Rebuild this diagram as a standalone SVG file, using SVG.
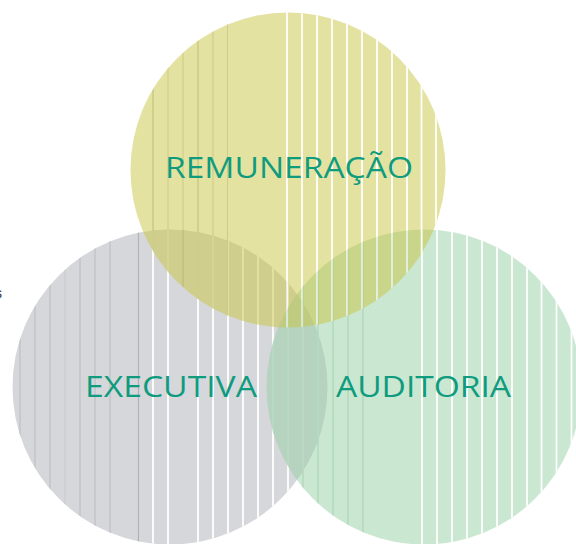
<svg xmlns="http://www.w3.org/2000/svg" width="576" height="544" viewBox="0 0 576 544">
<style>
.lbl{font-family:"Open Sans","Noto Sans","Liberation Sans",sans-serif;font-size:28.5px;font-weight:500;fill:#0e9b7e;text-anchor:middle}
.w{stroke:#ffffff;stroke-width:1.8}
.gd{stroke:#bdbec2;stroke-width:1.1}
.yd{stroke:#9d9d1c;stroke-width:1.1}
.gr{stroke:#5aa86c;stroke-width:1.1}
</style>
<defs>
<clipPath id="cg"><circle cx="170" cy="387" r="157.5"/></clipPath>
<clipPath id="cy"><circle cx="288" cy="170" r="157.5"/></clipPath>
<clipPath id="cn"><circle cx="424" cy="387" r="157.5"/></clipPath>
</defs>
<rect width="576" height="544" fill="#ffffff"/>
<text x="-5" y="298" font-family="Liberation Sans,sans-serif" font-size="14" fill="#333333">s</text>
<g id="executiva-circle">
<circle cx="170" cy="387" r="157.5" fill="#d6d7da"/>
<g clip-path="url(#cg)">
<path class="gd" d="M20 220V560M35 220V560M50 220V560M80 220V560M95 220V560M110 220V560"/>
<path d="M65 220V560" stroke="#c9cacd" stroke-width="1.1"/>
<path d="M138.5 220V560" stroke="#b0b2b5" stroke-width="1.2"/>
<path class="w" d="M153 220V560M168 220V560M198 220V560M213 220V560M228 220V560M243 220V560M258 220V560M273 220V560M288 220V560M303 220V560M318 220V560"/>
</g>
</g>
<g id="auditoria-circle" opacity="0.5">
<circle cx="424" cy="387" r="157.5" fill="#95d1a5"/>
<g clip-path="url(#cn)">
<path class="gr" d="M273 220V560M288 220V560M303 220V560M318 220V560M333 220V560M348 220V560M363 220V560"/>
<path class="w" d="M422 220V560M437 220V560M452 220V560M467 220V560M482 220V560M497 220V560M512 220V560M527 220V560M541.5 220V560M556.5 220V560M571.5 220V560"/>
</g>
</g>
<g id="remuneracao-circle" opacity="0.5">
<circle cx="288" cy="170" r="157.5" fill="#c9c743"/>
<g clip-path="url(#cy)">
<path class="yd" d="M168 0V340M183 0V340M213 0V340M227.5 0V340"/>
<path d="M153 0V340M198 0V340" stroke="#8a8a05" stroke-width="1.2"/>
<path class="w" d="M287 0V340M302 0V340M317 0V340M332 0V340M347 0V340M362 0V340M377 0V340M392 0V340M407 0V340M421.5 0V340M436 0V340"/>
</g>
</g>
<g id="labels">
<text class="lbl" x="289" y="178" textLength="248" lengthAdjust="spacingAndGlyphs">REMUNERAÇÃO</text>
<text class="lbl" x="171" y="397" textLength="172" lengthAdjust="spacingAndGlyphs">EXECUTIVA</text>
<text class="lbl" x="423.5" y="397" textLength="175" lengthAdjust="spacingAndGlyphs">AUDITORIA</text>
</g>
</svg>
